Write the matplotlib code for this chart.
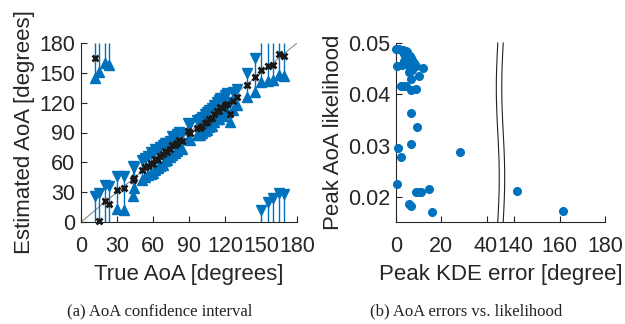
import numpy as np
import matplotlib
matplotlib.use("Agg")
import matplotlib.pyplot as plt
import matplotlib.transforms as mtransforms
from matplotlib.patches import Polygon

plt.rcParams['font.family'] = ['Liberation Sans', 'DejaVu Sans']

BLUE = '#0072BD'
TXT = '#262626'

# ---------------- data: panel (a) ----------------
true_aoa = [12, 15, 20, 23.5, 30, 36, 43, 44, 51, 53, 56, 58, 60, 62, 64, 66, 68, 70,
            72, 74, 76, 78, 80, 82, 84, 89, 91, 97, 99, 101, 103, 105, 107, 109, 111,
            113, 115, 116, 118, 120, 122, 124, 127, 130, 138, 145,
            150, 156, 160, 165, 169]
est_aoa = [165, 1, 21, 18, 32, 34, 42, 44, 52, 55, 56, 59, 58, 63, 62, 66, 68, 71,
           70, 73, 77, 77, 79, 82, 81, 92, 89, 95, 95, 97, 100, 101, 104, 105, 109,
           112, 112, 116, 115, 118, 119, 109, 122, 126, 138, 146,
           153, 157, 158, 169, 167]
lower_aoa = [145, 151, 160, 158, 13, 12, 26, 34, 42, 45, 47, 48, 49, 52, 54, 56, 57, 61,
             62, 65, 67, 69, 71, 74, 73, 83, 82, 87, 87, 89, 92, 93, 96, 97, 101,
             104, 104, 107, 107, 110, 111, 101, 113, 118, 126, 131,
             141, 142, 143, 148, 147]
upper_aoa = [26, 29, 37, 36, 46, 46, 56, 55, 62, 64, 66, 70, 68, 73, 72, 75, 77, 79,
             79, 81, 86, 85, 88, 91, 89, 100, 99, 103, 104, 106, 109, 111, 113, 115, 118,
             121, 123, 125, 125, 128, 130, 121, 131, 134, 150, 165,
             12, 20, 24, 29, 28]

# ---------------- data: panel (b) ----------------
kde_err = [0.2, 1.2, 2.2, 3.2, 4.4, 5.0, 3.6, 5.2, 6.0, 4.4, 6.5, 5.6, 7.2, 3.4, 6.8,
           8.0, 4.8, 2.8, 0.3, 7.4, 8.6, 6.2, 7.0, 5.8, 12.0, 10.2, 6.6, 2.0, 3.2, 4.5,
           6.6, 8.8, 6.6, 9.4, 6.6, 1.0, 2.0, 28.0, 0.3, 14.6, 8.8, 10.0, 11.0, 5.8,
           6.8, 15.8, 141.3, 161.3]
peak_lik = [0.0488, 0.0488, 0.0487, 0.0486, 0.0484, 0.0482, 0.0478, 0.0476, 0.0474,
            0.0472, 0.0470, 0.0467, 0.0466, 0.0465, 0.0462, 0.0461, 0.0460, 0.0458,
            0.0456, 0.0457, 0.0455, 0.0452, 0.0448, 0.0444, 0.0451, 0.0435, 0.0430,
            0.0416, 0.0416, 0.0416, 0.0408, 0.0411, 0.0364, 0.0336, 0.0304, 0.0296,
            0.0277, 0.0288, 0.0225, 0.0216, 0.0209, 0.0209, 0.0209, 0.0186, 0.0182,
            0.0170, 0.0212, 0.0173]

xticks_a = [0, 30, 60, 90, 120, 150, 180]
yticks_a = [0, 30, 60, 90, 120, 150, 180]
xticks_b = [0, 20, 40, 140, 160, 180]
yticks_b = [0.02, 0.03, 0.04, 0.05]

fig = plt.figure(figsize=(6.25, 3.24), dpi=100)
axa = fig.add_axes([81/625, 1-222/324, 216/625, 179/324])
axb = fig.add_axes([396/625, 1-222/324, 209/625, 179/324])

FS = 16
TFS = 15.5

def style(ax):
    for s in ('top', 'right'):
        ax.spines[s].set_visible(False)
    for s in ('left', 'bottom'):
        ax.spines[s].set_color(TXT)
        ax.spines[s].set_linewidth(0.8)
    ax.tick_params(direction='in', length=4, width=0.8, colors=TXT,
                   labelsize=TFS, pad=4)
    ax.tick_params(axis='x', pad=10)

# ---------- panel (a) ----------
axa.plot([0, 180], [0, 180], color='#8c8c8c', lw=0.8, zorder=1)
for t, e, lo, hi in zip(true_aoa, est_aoa, lower_aoa, upper_aoa):
    if lo <= hi:
        axa.vlines(t, lo, hi, color=BLUE, lw=1.0, zorder=2)
    else:
        axa.vlines(t, lo, 180, color=BLUE, lw=1.0, zorder=2)
        axa.vlines(t, 0, hi, color=BLUE, lw=1.0, zorder=2)
axa.plot(true_aoa, upper_aoa, 'v', color=BLUE, ms=6.5, mec=BLUE, zorder=3, clip_on=False)
axa.plot(true_aoa, lower_aoa, '^', color=BLUE, ms=6.5, mec=BLUE, zorder=3, clip_on=False)
axa.plot(true_aoa, est_aoa, 'x', color='#1a1a1a', ms=5, mew=2, zorder=4,
         linestyle='none', clip_on=False)
axa.set_xlim(0, 180)
axa.set_ylim(0, 180)
axa.set_xticks(xticks_a)
axa.set_yticks(yticks_a)
style(axa)
axa.set_xlabel('True AoA [degrees]', fontsize=FS, color=TXT, labelpad=5)
axa.set_ylabel('Estimated AoA [degrees]', fontsize=FS, color=TXT, labelpad=3)

# ---------- panel (b) ----------
def fwd(x):
    x = np.asarray(x, dtype=float)
    return np.where(x <= 46, x, np.where(x >= 134, x - 88, 46.0))

def inv(y):
    y = np.asarray(y, dtype=float)
    return np.where(y <= 46, y, y + 88)

axb.set_xscale('function', functions=(fwd, inv))
axb.plot(kde_err, peak_lik, 'o', color=BLUE, ms=5.5, mec=BLUE, linestyle='none',
         zorder=3, clip_on=False)
axb.set_xlim(0, 180)
axb.set_ylim(0.0151, 0.05)
axb.set_xticks(xticks_b)
axb.set_xticklabels([str(v) for v in xticks_b])
axb.set_yticks(yticks_b)
axb.set_yticklabels(['0.02', '0.03', '0.04', '0.05'])
axb.minorticks_off()
style(axb)
axb.set_xlabel('Peak KDE error [degree]', fontsize=FS, color=TXT, labelpad=5)
axb.set_ylabel('Peak AoA likelihood', fontsize=FS, color=TXT, labelpad=3)

# nudge the two labels at the break apart slightly
labels_b = axb.get_xticklabels()
shift_l = mtransforms.ScaledTranslation(-1.5/100, 0, fig.dpi_scale_trans)
shift_r = mtransforms.ScaledTranslation(1.5/100, 0, fig.dpi_scale_trans)
labels_b[2].set_transform(labels_b[2].get_transform() + shift_l)
labels_b[3].set_transform(labels_b[3].get_transform() + shift_r)

# break marks
yy = np.linspace(0, 1, 100)
dx = 0.007 * np.sin(2 * np.pi * yy)
c = 0.5
w = 0.013
left = c - w + dx
right = c + w + dx
poly = Polygon(np.column_stack([np.r_[left, right[::-1]], np.r_[yy, yy[::-1]]]),
               closed=True, facecolor='white', edgecolor='none',
               transform=axb.transAxes, clip_on=False, zorder=5)
axb.add_patch(poly)
axb.plot(left, yy, color='#222222', lw=0.8, transform=axb.transAxes, clip_on=False, zorder=6)
axb.plot(right, yy, color='#222222', lw=0.8, transform=axb.transAxes, clip_on=False, zorder=6)

# captions
cap_font = ['Liberation Serif', 'DejaVu Serif']
fig.text(160/625, 1-311/324, '(a) AoA confidence interval', ha='center', va='center',
         fontsize=12, family=cap_font, color='#222222')
fig.text(466/625, 1-311/324, '(b) AoA errors vs. likelihood', ha='center', va='center',
         fontsize=12, family=cap_font, color='#222222')

fig.savefig('out.png', dpi=100)
